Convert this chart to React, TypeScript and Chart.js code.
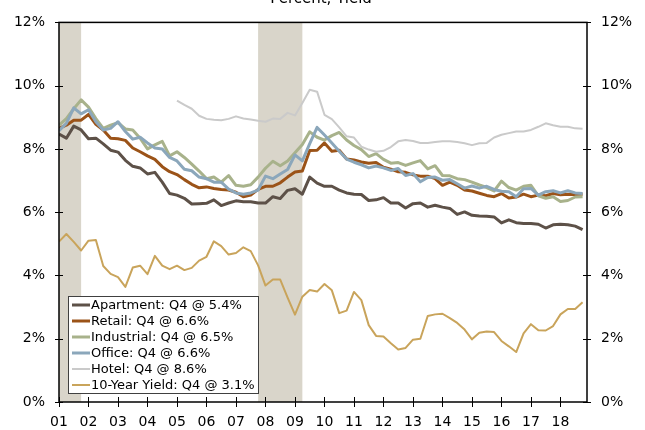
import React, { useEffect, useRef } from "react";
import { Chart, registerables } from "chart.js";

Chart.register(...registerables);

// Quarterly, 2001 Q1 .. 2018 Q4 (72 quarters); x value = quarter index
const yearLabels = ["01","02","03","04","05","06","07","08","09","10","11","12","13","14","15","16","17","18"];

const apartment = [8.47,8.34,8.72,8.60,8.32,8.34,8.16,7.96,7.90,7.64,7.45,7.40,7.21,7.26,6.95,6.59,6.54,6.44,6.26,6.27,6.28,6.39,6.21,6.29,6.36,6.33,6.33,6.29,6.29,6.49,6.43,6.69,6.74,6.57,7.11,6.92,6.82,6.82,6.70,6.61,6.57,6.56,6.37,6.39,6.46,6.29,6.29,6.13,6.27,6.29,6.16,6.22,6.16,6.12,5.93,6.01,5.90,5.88,5.87,5.85,5.66,5.76,5.67,5.64,5.64,5.62,5.50,5.60,5.62,5.60,5.56,5.45];

const retail = [8.65,8.75,8.91,8.91,9.09,8.78,8.60,8.34,8.32,8.27,8.03,7.91,7.78,7.67,7.44,7.28,7.19,7.03,6.88,6.77,6.80,6.75,6.72,6.70,6.63,6.49,6.54,6.72,6.82,6.82,6.93,7.11,7.27,7.30,7.95,7.96,8.19,7.93,7.96,7.68,7.65,7.59,7.55,7.57,7.42,7.36,7.28,7.26,7.18,7.14,7.14,7.06,6.85,6.95,6.85,6.70,6.67,6.60,6.53,6.49,6.59,6.45,6.48,6.57,6.49,6.54,6.52,6.59,6.55,6.57,6.56,6.57];

const industrial = [8.75,8.96,9.27,9.55,9.32,8.96,8.65,8.75,8.83,8.63,8.60,8.34,8.00,8.13,8.24,7.78,7.91,7.73,7.52,7.30,7.06,7.11,6.95,7.16,6.85,6.82,6.87,7.11,7.39,7.61,7.47,7.62,7.88,8.14,8.54,8.37,8.28,8.42,8.52,8.28,8.11,7.98,7.76,7.85,7.67,7.55,7.57,7.48,7.56,7.63,7.37,7.47,7.16,7.15,7.06,7.03,6.95,6.86,6.78,6.67,6.98,6.78,6.70,6.82,6.85,6.52,6.44,6.49,6.34,6.37,6.48,6.49];

const office = [8.58,8.81,9.30,9.11,9.24,8.86,8.60,8.65,8.86,8.55,8.31,8.37,8.19,8.03,8.00,7.73,7.62,7.36,7.31,7.11,7.06,6.95,6.95,6.73,6.61,6.57,6.61,6.70,7.14,7.06,7.21,7.35,7.81,7.62,8.17,8.68,8.44,8.19,7.93,7.68,7.58,7.50,7.40,7.46,7.40,7.32,7.38,7.16,7.22,6.96,7.10,7.11,7.01,7.03,6.90,6.76,6.83,6.76,6.82,6.72,6.66,6.65,6.49,6.74,6.75,6.54,6.65,6.68,6.61,6.68,6.61,6.59];

const hotel = [null,null,null,null,null,null,null,null,null,null,null,null,null,null,null,null,9.53,9.39,9.27,9.05,8.95,8.92,8.91,8.95,9.03,8.96,8.93,8.89,8.86,8.96,8.95,9.14,9.06,9.45,9.87,9.81,9.08,8.94,8.68,8.40,8.36,8.07,7.98,7.91,7.94,8.06,8.24,8.28,8.25,8.19,8.19,8.22,8.24,8.24,8.22,8.18,8.12,8.18,8.19,8.36,8.45,8.50,8.55,8.55,8.60,8.70,8.81,8.75,8.70,8.70,8.65,8.64];

const tenYear = [5.07,5.31,5.06,4.79,5.10,5.12,4.30,4.05,3.95,3.64,4.25,4.31,4.04,4.62,4.31,4.20,4.31,4.17,4.24,4.47,4.59,5.08,4.93,4.66,4.71,4.89,4.77,4.32,3.68,3.87,3.87,3.30,2.76,3.33,3.54,3.49,3.73,3.53,2.81,2.89,3.48,3.22,2.43,2.09,2.07,1.86,1.66,1.71,1.97,2.00,2.72,2.77,2.79,2.65,2.50,2.29,1.98,2.19,2.23,2.21,1.93,1.76,1.58,2.17,2.46,2.27,2.26,2.40,2.77,2.94,2.94,3.15];

const seriesLabels = [
  "Apartment: Q4 @ 5.4%",
  "Retail: Q4 @ 6.6%",
  "Industrial: Q4 @ 6.5%",
  "Office: Q4 @ 6.6%",
  "Hotel: Q4 @ 8.6%",
  "10-Year Yield: Q4 @ 3.1%",
];
const seriesValues = [apartment, retail, industrial, office, hotel, tenYear];
const seriesColors = ["#5d5148", "#9b5318", "#a8b28b", "#8ba7bb", "#cacaca", "#c9a45b"];
const seriesWidths = [3, 3, 3, 3, 2, 2];

// Recessions as [start quarter index, end quarter index]
const recessions = [[0, 3], [27, 33]];

const yTicks = [0, 2, 4, 6, 8, 10, 12];
const titleText = "Percent, Yield";
const FONT = "DejaVu Sans, Verdana, sans-serif";

const overlayPlugin = {
  id: "overlay",
  beforeDatasetsDraw(chart: any) {
    const { ctx, chartArea, scales } = chart;
    ctx.save();
    ctx.fillStyle = "#d9d5ca";
    for (const [a, b] of recessions) {
      const x0 = scales.x.getPixelForValue(a);
      const x1 = scales.x.getPixelForValue(b);
      ctx.fillRect(x0, chartArea.top, x1 - x0, chartArea.bottom - chartArea.top);
    }
    ctx.restore();
  },
  afterDraw(chart: any) {
    const { ctx, chartArea, scales } = chart;
    const { left, right, top, bottom } = chartArea;
    ctx.save();
    // frame
    ctx.strokeStyle = "#000";
    ctx.lineWidth = 1.5;
    ctx.strokeRect(left, top, right - left, bottom - top);
    // ticks crossing the axes
    ctx.lineWidth = 1;
    ctx.beginPath();
    for (const v of yTicks) {
      const y = Math.round(scales.y.getPixelForValue(v)) + 0.5;
      ctx.moveTo(left - 4, y); ctx.lineTo(left + 4, y);
      ctx.moveTo(right - 4, y); ctx.lineTo(right + 4, y);
    }
    yearLabels.forEach((_, i) => {
      const x = Math.round(scales.x.getPixelForValue(i * 4)) + 0.5;
      ctx.moveTo(x, bottom - 5); ctx.lineTo(x, bottom + 5);
    });
    ctx.stroke();
    // title (partially cut off at top)
    ctx.fillStyle = "#000";
    ctx.font = "15px " + FONT;
    ctx.textAlign = "center";
    ctx.textBaseline = "alphabetic";
    ctx.fillText(titleText, (left + right) / 2 - 2, 3);
    // legend
    const bx = left + 9, bw = 190, bh = 97;
    const by = bottom - 9 - bh;
    ctx.fillStyle = "#fff";
    ctx.fillRect(bx, by, bw, bh);
    ctx.strokeStyle = "#404040";
    ctx.lineWidth = 1;
    ctx.strokeRect(bx + 0.5, by + 0.5, bw, bh);
    ctx.font = "13px " + FONT;
    ctx.textAlign = "left";
    ctx.textBaseline = "middle";
    seriesLabels.forEach((lab, i) => {
      const yy = by + 9 + i * 16;
      ctx.strokeStyle = seriesColors[i];
      ctx.lineWidth = seriesWidths[i];
      ctx.beginPath();
      ctx.moveTo(bx + 4, yy); ctx.lineTo(bx + 22, yy);
      ctx.stroke();
      ctx.fillStyle = "#000";
      ctx.fillText(lab, bx + 23, yy + 1);
    });
    ctx.restore();
  },
};

export default function App() {
  const ref = useRef<HTMLCanvasElement>(null);
  useEffect(() => {
    const canvas = ref.current!;
    const datasets = seriesValues.map((vals, k) => ({
      label: seriesLabels[k],
      data: vals.map((v, i) => ({ x: i, y: v })),
      borderColor: seriesColors[k],
      backgroundColor: seriesColors[k],
      borderWidth: seriesWidths[k],
      pointRadius: 0,
      tension: 0,
      fill: false,
      spanGaps: false,
      borderJoinStyle: "round" as const,
      order: 10 - k,
    }));
    const tickFont = { family: FONT, size: 14 };
    const yAxis = (position: "left" | "right", width: number) => ({
      position,
      min: 0,
      max: 12,
      afterBuildTicks: (s: any) => { s.ticks = yTicks.map((v) => ({ value: v })); },
      ticks: { padding: 14, color: "#000", font: tickFont, callback: (v: any) => v + "%" },
      grid: { display: false, drawTicks: false },
      border: { display: false },
      afterFit: (s: any) => { s.width = width; },
    });
    const chart = new Chart(canvas, {
      type: "line",
      data: { datasets },
      options: {
        responsive: false,
        animation: false,
        devicePixelRatio: 1,
        layout: { padding: { top: 13, left: 0, right: 0, bottom: 0 } },
        plugins: { legend: { display: false }, tooltip: { enabled: false } },
        scales: {
          x: {
            type: "linear",
            min: 0,
            max: 71.6,
            afterBuildTicks: (s: any) => { s.ticks = yearLabels.map((_, i) => ({ value: i * 4 })); },
            ticks: {
              autoSkip: false,
              maxRotation: 0,
              padding: 12,
              color: "#000",
              font: tickFont,
              callback: (v: any) => yearLabels[Math.round(v / 4)] ?? "",
            },
            grid: { display: false, drawTicks: false },
            border: { display: false },
            afterFit: (s: any) => { s.height = 28; },
          },
          y: yAxis("left", 59),
          y2: yAxis("right", 58),
        },
      } as any,
      plugins: [overlayPlugin],
    });
    return () => chart.destroy();
  }, []);
  return (
    <div style={{ position: "fixed", left: 0, top: 0, width: 645, height: 430, background: "#fff" }}>
      <canvas ref={ref} width={645} height={430} style={{ display: "block", width: 645, height: 430 }} />
    </div>
  );
}
